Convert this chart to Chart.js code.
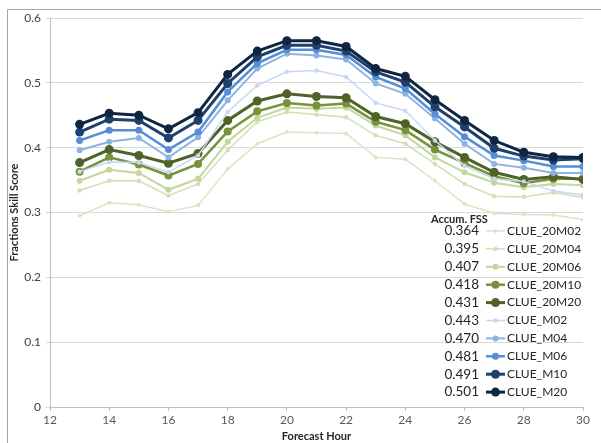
<!DOCTYPE html>
<html><head><meta charset="utf-8">
<script src="https://cdn.jsdelivr.net/npm/chart.js@4.4.1/dist/chart.umd.min.js"></script>
<style>html,body{margin:0;padding:0;background:#fff}#wrap{width:601px;height:443px;position:relative}</style>
</head><body><div id="wrap"><canvas id="c" width="601" height="443"></canvas></div>
<script>
const hours = [13,14,15,16,17,18,19,20,21,22,23,24,25,26,27,28,29,30];
const seriesNames = ['CLUE_20M02','CLUE_20M04','CLUE_20M06','CLUE_20M10','CLUE_20M20','CLUE_M02','CLUE_M04','CLUE_M06','CLUE_M10','CLUE_M20'];
const accumFSS = [0.364,0.395,0.407,0.418,0.431,0.443,0.470,0.481,0.491,0.501];
const clue20M02 = [0.295,0.315,0.312,0.301,0.311,0.367,0.406,0.424,0.423,0.422,0.385,0.382,0.349,0.313,0.299,0.297,0.296,0.289];
const clue20M04 = [0.334,0.349,0.349,0.326,0.344,0.396,0.440,0.455,0.451,0.447,0.419,0.406,0.375,0.344,0.325,0.324,0.331,0.323];
const clue20M06 = [0.349,0.366,0.361,0.335,0.352,0.409,0.446,0.462,0.460,0.462,0.434,0.419,0.385,0.362,0.346,0.339,0.344,0.342];
const clue20M10 = [0.363,0.385,0.374,0.357,0.375,0.425,0.456,0.469,0.465,0.468,0.440,0.427,0.397,0.376,0.356,0.345,0.352,0.352];
const clue20M20 = [0.377,0.397,0.388,0.376,0.391,0.442,0.472,0.483,0.479,0.477,0.448,0.437,0.409,0.385,0.362,0.351,0.355,0.351];
const clueM02   = [0.363,0.378,0.377,0.362,0.388,0.455,0.496,0.517,0.519,0.509,0.469,0.457,0.411,0.372,0.352,0.348,0.333,0.327];
const clueM04   = [0.396,0.409,0.415,0.385,0.416,0.473,0.522,0.545,0.542,0.536,0.499,0.483,0.445,0.406,0.375,0.369,0.361,0.361];
const clueM06   = [0.411,0.427,0.427,0.397,0.424,0.486,0.530,0.551,0.551,0.543,0.509,0.491,0.452,0.417,0.388,0.380,0.371,0.371];
const clueM10   = [0.424,0.444,0.442,0.415,0.442,0.499,0.540,0.558,0.558,0.549,0.517,0.501,0.463,0.432,0.399,0.387,0.381,0.383];
const clueM20   = [0.436,0.453,0.450,0.429,0.454,0.513,0.549,0.565,0.565,0.556,0.522,0.510,0.474,0.442,0.411,0.393,0.386,0.385];
const seriesValues = [clue20M02,clue20M04,clue20M06,clue20M10,clue20M20,clueM02,clueM04,clueM06,clueM10,clueM20];
const xTicks = [12,14,16,18,20,22,24,26,28,30];
const yTicks = [0,0.1,0.2,0.3,0.4,0.5,0.6];

const colors = ['#dbe5c6','#d2e0b4','#c3d69b','#76923c','#4f6228','#c6d9f1','#8db3e2','#558ed5','#1f3f6e','#10253f'];
const widths = [1.5,1.5,2,2.5,3,1.5,2,2.5,3,3];
const radii  = [2,2.2,3,4,4.5,2.2,3,3.5,4.5,4.5];

const datasets = seriesNames.map((n,i)=>({
  label:n,
  data: hours.map((h,j)=>({x:h,y:seriesValues[i][j]})),
  borderColor: colors[i], backgroundColor: colors[i],
  pointBackgroundColor: colors[i], pointBorderColor: colors[i],
  borderWidth: widths[i], pointRadius: radii[i], pointBorderWidth:0,
  tension:0, order: 10-i
}));

const FONT = 'Lato, "Liberation Sans", sans-serif';

const fssLegend = {
  id:'fssLegend',
  afterDraw(chart){
    const ctx = chart.ctx;
    ctx.save();
    ctx.strokeStyle='#a6a6a6'; ctx.lineWidth=1;
    ctx.beginPath(); ctx.moveTo(7.5,443); ctx.lineTo(7.5,9.5); ctx.lineTo(601,9.5); ctx.stroke();
    ctx.textBaseline='middle';
    ctx.fillStyle='#262626';
    ctx.font='bold 11px '+FONT; ctx.textAlign='left';
    ctx.fillText('Accum. FSS',431,219);
    const top=231, step=17.9;
    seriesNames.forEach((n,i)=>{
      const y = top + i*step;
      ctx.font='13.5px '+FONT; ctx.textAlign='right'; ctx.fillStyle='#262626';
      ctx.fillText(accumFSS[i].toFixed(3),479,y);
      ctx.strokeStyle=colors[i]; ctx.lineWidth=widths[i];
      ctx.beginPath(); ctx.moveTo(486,y); ctx.lineTo(505,y); ctx.stroke();
      ctx.fillStyle=colors[i];
      ctx.beginPath(); ctx.arc(495.5,y,radii[i],0,Math.PI*2); ctx.fill();
      ctx.font='12px '+FONT; ctx.textAlign='left'; ctx.fillStyle='#262626';
      ctx.fillText(n,507,y);
    });
    ctx.restore();
  }
};

new Chart(document.getElementById('c'),{
  type:'line',
  data:{datasets},
  options:{
    responsive:false, animation:false, devicePixelRatio:1,
    layout:{padding:{left:0,right:18,top:18,bottom:0}},
    plugins:{legend:{display:false},tooltip:{enabled:false}},
    scales:{
      x:{type:'linear',min:12,max:30,
        afterBuildTicks(s){s.ticks = xTicks.map(v=>({value:v}));},
        afterFit(s){s.height=36;},
        ticks:{color:'#595959',font:{family:FONT,size:12},padding:2,maxRotation:0},
        grid:{display:true,drawOnChartArea:false,drawTicks:true,tickLength:4,color:'#bfbfbf'},
        border:{display:true,color:'#bfbfbf'},
        title:{display:true,text:'Forecast Hour',color:'#262626',font:{family:FONT,size:11,weight:'bold'},padding:{top:0,bottom:0}}
      },
      y:{min:0,max:0.6,
        afterBuildTicks(s){s.ticks = yTicks.map(v=>({value:v}));},
        afterFit(s){s.width=50;},
        ticks:{color:'#404040',font:{family:FONT,size:12},padding:5,callback:v=>v===0?'0':v.toFixed(1)},
        grid:{color:'#d9d9d9',lineWidth:1,drawTicks:true,tickLength:4},
        border:{display:true,color:'#bfbfbf'},
        title:{display:true,text:'Fractions Skill Score',color:'#262626',font:{family:FONT,size:11,weight:'bold'},padding:{top:8,bottom:2}}
      }
    }
  },
  plugins:[fssLegend]
});
</script></body></html>
